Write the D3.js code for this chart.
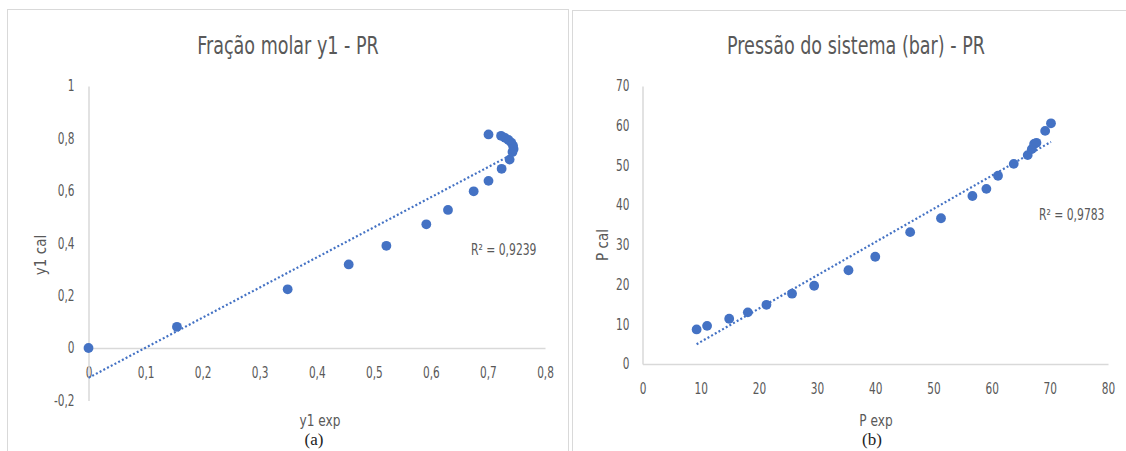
<!DOCTYPE html>
<html>
<head>
<meta charset="utf-8">
<script src="https://cdn.jsdelivr.net/npm/d3@7"></script>
<style>
  body { margin: 0; background: #fff; }
  svg text { font-family: "Liberation Sans Narrow", "DejaVu Sans Condensed", "Open Sans", sans-serif; fill: #595959; }
  .caption { font-family: "Liberation Serif", "DejaVu Serif", serif !important; fill: #222 !important; }
</style>
</head>
<body>
<svg id="chart" width="1126" height="451"></svg>
<script>
// (a) molar fraction y1, experimental vs calculated
var y1Exp = [0, 0.155, 0.349, 0.456, 0.522, 0.592, 0.630, 0.675, 0.701, 0.724, 0.738,
             0.743, 0.745, 0.744, 0.741, 0.736, 0.730, 0.723, 0.701];
var y1Cal = [0, 0.081, 0.224, 0.319, 0.390, 0.472, 0.527, 0.598, 0.638, 0.684, 0.719,
             0.748, 0.760, 0.772, 0.784, 0.794, 0.802, 0.810, 0.815];
var y1XTicks = [0, 0.1, 0.2, 0.3, 0.4, 0.5, 0.6, 0.7, 0.8];
var y1YTicks = [-0.2, 0, 0.2, 0.4, 0.6, 0.8, 1];

// (b) system pressure (bar)
var pExp = [9.3, 11.1, 14.9, 18.1, 21.3, 25.7, 29.5, 35.4, 40.0, 46.0, 51.3,
            56.7, 59.1, 61.1, 63.8, 66.2, 66.9, 67.3, 67.7, 69.2, 70.2];
var pCal = [8.7, 9.6, 11.4, 13.0, 14.9, 17.7, 19.7, 23.6, 27.0, 33.2, 36.7,
            42.3, 44.1, 47.4, 50.4, 52.6, 54.1, 55.4, 55.7, 58.7, 60.6];
var pXTicks = [0, 10, 20, 30, 40, 50, 60, 70, 80];
var pYTicks = [0, 10, 20, 30, 40, 50, 60, 70];

var blue = "#4472c4", axisGrey = "#d9d9d9";
var svg = d3.select("#chart");
var fmt = function (d) { return String(d).replace(".", ","); };

// squeeze text horizontally, the source used a narrow font
function squeeze(sel, k) {
  sel.each(function () {
    var w = this.getComputedTextLength();
    d3.select(this).attr("textLength", w * k).attr("lengthAdjust", "spacingAndGlyphs");
  });
}

// panel frames
svg.append("rect").attr("x", 7.5).attr("y", 9.5).attr("width", 561).attr("height", 460)
  .attr("fill", "none").attr("stroke", axisGrey);
svg.append("rect").attr("x", 572.5).attr("y", 10.5).attr("width", 570).attr("height", 460)
  .attr("fill", "none").attr("stroke", axisGrey);

function linreg(xs, ys) {
  var mx = d3.mean(xs), my = d3.mean(ys), sxy = 0, sxx = 0;
  xs.forEach(function (x, i) { sxy += (x - mx) * (ys[i] - my); sxx += (x - mx) * (x - mx); });
  var m = sxy / sxx;
  return { m: m, b: my - m * mx };
}

function drawChart(o) {
  var g = svg.append("g");
  var x = d3.scaleLinear().domain(o.xDomain).range(o.xRange);
  var y = d3.scaleLinear().domain(o.yDomain).range(o.yRange);

  var xAxis = g.append("g")
    .attr("transform", "translate(0," + y(0) + ")")
    .call(d3.axisBottom(x).tickValues(o.xTicks).tickFormat(fmt).tickSize(0).tickPadding(19));
  var yAxis = g.append("g")
    .attr("transform", "translate(" + x(0) + ",0)")
    .call(d3.axisLeft(y).tickValues(o.yTicks).tickFormat(fmt).tickSize(0).tickPadding(o.yPad));
  [xAxis, yAxis].forEach(function (a) {
    a.select(".domain").attr("stroke", axisGrey).attr("stroke-width", 1.5);
    a.selectAll("text").attr("font-size", 15).attr("fill", "#595959")
      .style("font-family", "'Liberation Sans Narrow', 'DejaVu Sans Condensed', sans-serif")
      .call(squeeze, 0.78);
  });

  // trendline (linear fit, dotted)
  var r = linreg(o.xs, o.ys);
  var x0 = d3.min(o.xs), x1 = d3.max(o.xs);
  g.append("line")
    .attr("x1", x(x0)).attr("y1", y(r.m * x0 + r.b))
    .attr("x2", x(x1)).attr("y2", y(r.m * x1 + r.b))
    .attr("stroke", blue).attr("stroke-width", 2.2).attr("stroke-dasharray", "2 2.2");

  g.selectAll("circle").data(o.xs).enter().append("circle")
    .attr("cx", function (d) { return x(d); })
    .attr("cy", function (d, i) { return y(o.ys[i]); })
    .attr("r", 4.9).attr("fill", blue);

  g.append("text").attr("x", o.titleX).attr("y", 54).attr("text-anchor", "middle")
    .attr("font-size", 25).text(o.title).call(squeeze, o.titleK);
  g.append("text").attr("x", o.r2X).attr("y", o.r2Y).attr("font-size", 15).text(o.r2)
    .call(squeeze, 0.8);
  g.append("text").attr("transform", "translate(" + o.yTitleX + "," + o.yTitleY + ") rotate(-90)")
    .attr("text-anchor", "middle").attr("font-size", 15).text(o.yTitle);
  g.append("text").attr("x", o.xTitleX).attr("y", 426).attr("text-anchor", "middle")
    .attr("font-size", 15).text(o.xTitle).call(squeeze, 0.9);
  g.append("text").attr("class", "caption").attr("x", o.capX).attr("y", 445)
    .attr("text-anchor", "middle").attr("font-size", 17).text(o.caption);
}

drawChart({
  xs: y1Exp, ys: y1Cal, xTicks: y1XTicks, yTicks: y1YTicks,
  xDomain: [0, 0.8], xRange: [88.5, 545], yDomain: [-0.2, 1], yRange: [400.4, 86], yPad: 14,
  title: "Fração molar y1 - PR", titleX: 288, titleK: 0.78,
  r2: "R² = 0,9239", r2X: 471, r2Y: 255,
  yTitle: "y1 cal", yTitleX: 46, yTitleY: 255,
  xTitle: "y1 exp", xTitleX: 320, caption: "(a)", capX: 314
});

drawChart({
  xs: pExp, ys: pCal, xTicks: pXTicks, yTicks: pYTicks,
  xDomain: [0, 80], xRange: [642.5, 1108], yDomain: [0, 70], yRange: [364, 86], yPad: 13,
  title: "Pressão do sistema (bar) - PR", titleX: 856, titleK: 0.78,
  r2: "R² = 0,9783", r2X: 1039, r2Y: 220,
  yTitle: "P cal", yTitleX: 608, yTitleY: 245,
  xTitle: "P exp", xTitleX: 876, caption: "(b)", capX: 872
});
</script>
</body>
</html>
